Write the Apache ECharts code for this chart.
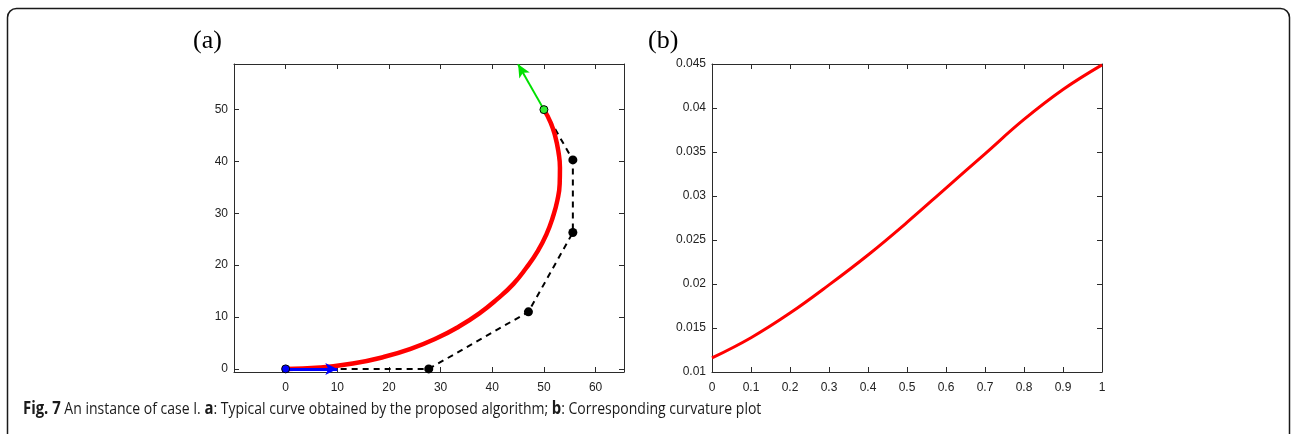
<!DOCTYPE html>
<html>
<head>
<meta charset="utf-8">
<script src="https://cdn.jsdelivr.net/npm/echarts@6/dist/echarts.min.js"></script>
<style>
  html, body { margin: 0; padding: 0; background: #fff; }
  #chart { width: 1293px; height: 434px; }
</style>
</head>
<body>
<div id="chart"></div>
<script>
// 数据 (a): 控制多边形
const polyX = [0, 27.7, 47, 55.6, 55.6, 50];
const polyY = [0, 0, 11, 26.3, 40.3, 50];
// 数据 (a): 红色曲线
const curveX = [0, 6.7, 13.0, 18.8, 24.2, 29.1, 33.5, 37.5, 41.0, 44.1, 46.6, 48.8, 50.5, 51.7, 52.6, 53.05, 53.1, 52.8, 52.2, 51.3, 50];
const curveY = [0, 0.27, 1.03, 2.25, 3.87, 5.85, 8.14, 10.7, 13.5, 16.4, 19.5, 22.7, 26.0, 29.2, 32.5, 35.7, 38.8, 41.9, 44.8, 47.5, 50];
// 起点/终点切向箭头
const startArrow = [[0, 0], [10, 0]];
const endArrow = [[50, 50], [45.0, 58.75]];
// 数据 (b): 曲率
const tValues = [0, 0.1, 0.2, 0.3, 0.4, 0.5, 0.6, 0.7, 0.8, 0.9, 1];
const curvature = [0.0116, 0.0139, 0.0167, 0.0199, 0.0233, 0.0270, 0.0309, 0.0348, 0.0387, 0.0421, 0.0449];

// 刻度
const aXTicks = [0, 10, 20, 30, 40, 50, 60];
const aXLabels = ['0', '10', '20', '30', '40', '50', '60'];
const aYTicks = [0, 10, 20, 30, 40, 50];
const aYLabels = ['0', '10', '20', '30', '40', '50'];
const bXTicks = [0, 0.1, 0.2, 0.3, 0.4, 0.5, 0.6, 0.7, 0.8, 0.9, 1];
const bXLabels = ['0', '0.1', '0.2', '0.3', '0.4', '0.5', '0.6', '0.7', '0.8', '0.9', '1'];
const bYTicks = [0.01, 0.015, 0.02, 0.025, 0.03, 0.035, 0.04, 0.045];
const bYLabels = ['0.01', '0.015', '0.02', '0.025', '0.03', '0.035', '0.04', '0.045'];

const AXIS_COLOR = '#2b2b2b';

function pickLabel(ticks, labels) {
    return function(v) {
        let best = -1, bestD = Infinity;
        ticks.forEach((t, i) => {
            const d = Math.abs(t - v);
            if (d < bestD) { bestD = d; best = i; }
        });
        return bestD < 1e-6 ? labels[best] : '';
    };
}

function makeAxis(gridIndex, position, min, max, ticks, labels, showLabel) {
    const isX = position === 'bottom' || position === 'top';
    return {
        type: 'value',
        gridIndex: gridIndex,
        position: position,
        min: min,
        max: max,
        splitLine: { show: false },
        axisLine: { show: true, onZero: false, lineStyle: { color: AXIS_COLOR, width: 1 } },
        axisTick: {
            show: true, inside: true, length: 5,
            customValues: ticks,
            lineStyle: { color: AXIS_COLOR, width: 1 }
        },
        axisLabel: {
            show: showLabel,
            customValues: ticks,
            formatter: pickLabel(ticks, labels),
            color: '#222',
            fontFamily: 'Liberation Sans, Arial, sans-serif',
            fontSize: 12,
            margin: isX ? 10 : 6
        }
    };
}

const chart = echarts.init(document.getElementById('chart'));

const option = {
    backgroundColor: '#fff',
    animation: false,
    grid: [
        { left: 234, top: 64, width: 390, height: 308 },
        { left: 712, top: 64, width: 390, height: 308 }
    ],
    xAxis: [
        makeAxis(0, 'bottom', -10, 65.5, aXTicks, aXLabels, true),
        makeAxis(0, 'top', -10, 65.5, aXTicks, aXLabels, false),
        makeAxis(1, 'bottom', 0, 1, bXTicks, bXLabels, true),
        makeAxis(1, 'top', 0, 1, bXTicks, bXLabels, false)
    ],
    yAxis: [
        makeAxis(0, 'left', -0.6, 58.8, aYTicks, aYLabels, true),
        makeAxis(0, 'right', -0.6, 58.8, aYTicks, aYLabels, false),
        makeAxis(1, 'left', 0.01, 0.045, bYTicks, bYLabels, true),
        makeAxis(1, 'right', 0.01, 0.045, bYTicks, bYLabels, false)
    ],
    series: [
        {
            // 控制多边形 (虚线)
            type: 'line',
            xAxisIndex: 0, yAxisIndex: 0,
            data: polyX.map((x, i) => [x, polyY[i]]),
            showSymbol: false,
            symbol: 'none',
            lineStyle: { color: '#000', width: 2, type: [6, 5] },
            z: 2
        },
        {
            // 中间控制点
            type: 'scatter',
            xAxisIndex: 0, yAxisIndex: 0,
            data: polyX.slice(1, -1).map((x, i) => [x, polyY[i + 1]]),
            symbolSize: 9,
            itemStyle: { color: '#000', opacity: 1 },
            z: 3
        },
        {
            // 红色曲线
            type: 'line',
            xAxisIndex: 0, yAxisIndex: 0,
            data: curveX.map((x, i) => [x, curveY[i]]),
            smooth: 0.5,
            symbol: 'none',
            lineStyle: { color: '#ff0000', width: 4.5 },
            z: 4
        },
        {
            // 切向箭头
            type: 'line',
            xAxisIndex: 0, yAxisIndex: 0,
            data: [],
            symbol: 'none',
            markLine: {
                silent: true,
                animation: false,
                label: { show: false },
                symbol: ['none', 'arrow'],
                data: [
                    [
                        { coord: startArrow[0], symbolSize: [9, 12], lineStyle: { color: '#0000ff', width: 3, type: 'solid' } },
                        { coord: startArrow[1], symbolSize: [9, 12] }
                    ],
                    [
                        { coord: endArrow[0], symbolSize: [9, 13], lineStyle: { color: '#00e000', width: 2, type: 'solid' } },
                        { coord: endArrow[1], symbolSize: [9, 13] }
                    ]
                ]
            },
            z: 5
        },
        {
            // 起点
            type: 'scatter',
            xAxisIndex: 0, yAxisIndex: 0,
            data: [startArrow[0]],
            symbolSize: 8,
            itemStyle: { color: '#0000ff', borderColor: '#000', borderWidth: 1, opacity: 1 },
            z: 6
        },
        {
            // 终点
            type: 'scatter',
            xAxisIndex: 0, yAxisIndex: 0,
            data: [endArrow[0]],
            symbolSize: 8,
            itemStyle: { color: '#33ee33', borderColor: '#000', borderWidth: 1, opacity: 1 },
            z: 6
        },
        {
            // (b) 曲率
            type: 'line',
            xAxisIndex: 2, yAxisIndex: 2,
            data: tValues.map((t, i) => [t, curvature[i]]),
            smooth: 0.4,
            symbol: 'none',
            lineStyle: { color: '#ff0000', width: 3 },
            z: 4
        }
    ],
    graphic: [
        {
            type: 'rect',
            shape: { x: 7.5, y: 8.5, width: 1282, height: 440, r: 9 },
            style: { fill: 'none', stroke: '#1a1a1a', lineWidth: 1.5 },
            silent: true
        },
        {
            type: 'text',
            x: 193, y: 41,
            style: { text: '(a)', font: '26px "Liberation Serif", "Times New Roman", serif', fill: '#000', verticalAlign: 'middle' }
        },
        {
            type: 'text',
            x: 648, y: 41,
            style: { text: '(b)', font: '26px "Liberation Serif", "Times New Roman", serif', fill: '#000', verticalAlign: 'middle' }
        },
        {
            type: 'text',
            x: 23, y: 409,
            scaleX: 0.875,
            style: {
                text: '{b|Fig. 7} An instance of case I. {b|a}: Typical curve obtained by the proposed algorithm; {b|b}: Corresponding curvature plot',
                fontFamily: '"Open Sans", sans-serif',
                fontSize: 16,
                fill: '#1a1a1a',
                verticalAlign: 'middle',
                rich: {
                    b: { fontWeight: 'bold', fontFamily: '"Open Sans", sans-serif', fontSize: 17, fill: '#1a1a1a' }
                }
            }
        }
    ]
};

chart.setOption(option);
</script>
</body>
</html>
